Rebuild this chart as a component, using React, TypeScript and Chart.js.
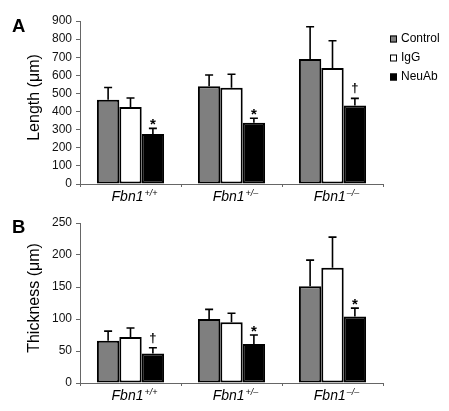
import React, { useEffect, useRef } from "react";
import { Chart, registerables } from "chart.js";

Chart.register(...registerables);

const categories = ["+/+", "+/–", "–/–"];
const seriesNames = ["Control", "IgG", "NeuAb"];
const seriesColors = ["#7f7f7f", "#ffffff", "#000000"];

const lengthControl = [465, 540, 690];
const lengthIgG = [425, 532, 640];
const lengthNeuAb = [276, 338, 434];
const lengthControlErr = [68, 62, 178];
const lengthIgGErr = [50, 74, 151];
const lengthNeuAbErr = [31, 25, 39];
const lengthMarks = ["*", "*", "†"];
const lengthMax = 900;
const lengthStep = 100;

const thickControl = [66, 100, 151];
const thickIgG = [72, 95, 180];
const thickNeuAb = [46, 61, 104];
const thickControlErr = [15, 15, 41];
const thickIgGErr = [14, 14, 48];
const thickNeuAbErr = [9, 14, 13];
const thickMarks = ["†", "*", "*"];
const thickMax = 250;
const thickStep = 50;

const FONT = "'Liberation Sans', Arial, sans-serif";
const AXIS = "#666666";

const panelPlugin = {
  id: "panel",
  afterDraw(chart: any, _args: any, opts: any) {
    const ctx = chart.ctx as CanvasRenderingContext2D;
    const xs = chart.scales.x;
    const ys = chart.scales.y;
    const area = chart.chartArea;
    ctx.save();
    // error bars
    chart.data.datasets.forEach((ds: any, i: number) => {
      const meta = chart.getDatasetMeta(i);
      meta.data.forEach((bar: any, j: number) => {
        const v = ds.data[j];
        const e = opts.errors[i][j];
        const yTop = ys.getPixelForValue(v + e);
        ctx.strokeStyle = "#000";
        ctx.lineWidth = 1.6;
        ctx.beginPath();
        ctx.moveTo(bar.x, bar.y);
        ctx.lineTo(bar.x, yTop);
        ctx.moveTo(bar.x - 4, yTop);
        ctx.lineTo(bar.x + 4, yTop);
        ctx.stroke();
        if (i === 2) {
          const m = opts.marks[j];
          ctx.fillStyle = "#000";
          ctx.textAlign = "center";
          ctx.textBaseline = "alphabetic";
          if (m === "*") {
            ctx.font = `bold 15px ${FONT}`;
            ctx.fillText(m, bar.x, yTop + 1);
          } else {
            ctx.font = `bold 13px ${FONT}`;
            ctx.fillText(m, bar.x, yTop - 6);
          }
        }
      });
    });
    // x labels
    categories.forEach((c: string, k: number) => {
      const cx = xs.getPixelForValue(k) + 4;
      ctx.font = `italic 14px ${FONT}`;
      const w1 = ctx.measureText("Fbn1").width;
      ctx.font = `italic 9px ${FONT}`;
      const w2 = ctx.measureText(c).width;
      const left = cx - (w1 + w2 + 1) / 2;
      const base = area.bottom + 17;
      ctx.fillStyle = "#000";
      ctx.textAlign = "left";
      ctx.textBaseline = "alphabetic";
      ctx.font = `italic 14px ${FONT}`;
      ctx.fillText("Fbn1", left, base);
      ctx.font = `italic 9px ${FONT}`;
      ctx.fillText(c, left + w1 + 1, base - 5);
    });
    // y title
    ctx.save();
    ctx.translate(35, (area.top + area.bottom) / 2 - 5);
    ctx.rotate(-Math.PI / 2);
    ctx.font = `16px ${FONT}`;
    ctx.textAlign = "center";
    ctx.textBaseline = "middle";
    ctx.fillStyle = "#000";
    ctx.fillText(opts.title, 0, 0);
    ctx.restore();
    // panel letter
    ctx.font = `bold 18.5px ${FONT}`;
    ctx.textAlign = "left";
    ctx.textBaseline = "alphabetic";
    ctx.fillStyle = "#000";
    ctx.fillText(opts.letter, 12, opts.letterBase);
    // legend
    if (opts.legend) {
      seriesNames.forEach((n: string, k: number) => {
        const cy = 39 + k * 19;
        ctx.fillStyle = seriesColors[k];
        ctx.fillRect(390, cy - 3.5, 7, 7);
        ctx.strokeStyle = "#000";
        ctx.lineWidth = 1;
        ctx.strokeRect(390.5, cy - 3, 6, 6);
        ctx.fillStyle = "#000";
        ctx.font = `12px ${FONT}`;
        ctx.textAlign = "left";
        ctx.textBaseline = "middle";
        ctx.fillText(n, 401, cy);
      });
    }
    ctx.restore();
  },
};

type PanelProps = {
  top: number;
  height: number;
  letter: string;
  letterBase: number;
  title: string;
  series: number[][];
  errors: number[][];
  marks: string[];
  yMax: number;
  yStep: number;
  padTop: number;
  padBottom: number;
  legend: boolean;
};

function Panel(p: PanelProps) {
  const ref = useRef<HTMLCanvasElement | null>(null);
  useEffect(() => {
    if (!ref.current) return;
    const chart = new Chart(ref.current, {
      type: "bar",
      data: {
        labels: categories,
        datasets: p.series.map((d, i) => ({
          label: seriesNames[i],
          data: d,
          backgroundColor: seriesColors[i],
          borderColor: "#000",
          borderWidth: 2,
          borderSkipped: false,
          categoryPercentage: 0.665,
          barPercentage: 1,
        })),
      },
      options: {
        responsive: false,
        animation: false,
        layout: { padding: { left: 0, right: 66, top: p.padTop, bottom: p.padBottom } },
        scales: {
          x: {
            ticks: { display: false },
            grid: { offset: true, drawOnChartArea: false, drawTicks: true, tickLength: 3, color: AXIS },
            border: { color: AXIS, width: 1 },
            afterFit: (s: any) => {
              s.height = 4;
            },
          },
          y: {
            min: 0,
            max: p.yMax,
            ticks: { stepSize: p.yStep, font: { family: FONT, size: 12 }, color: "#111", padding: 4 },
            grid: { drawOnChartArea: false, tickLength: 4, color: AXIS },
            border: { color: AXIS, width: 1 },
            afterFit: (s: any) => {
              s.width = 80;
            },
          },
        },
        plugins: {
          legend: { display: false },
          tooltip: { enabled: false },
          panel: {
            errors: p.errors,
            marks: p.marks,
            title: p.title,
            letter: p.letter,
            letterBase: p.letterBase,
            legend: p.legend,
          },
        } as any,
      },
      plugins: [panelPlugin as any],
    });
    return () => chart.destroy();
  }, []);
  return (
    <canvas
      ref={ref}
      width={449}
      height={p.height}
      style={{ position: "absolute", left: 0, top: p.top, width: 449, height: p.height }}
    />
  );
}

export default function App() {
  return (
    <div style={{ position: "fixed", left: 0, top: 0, width: 449, height: 411, background: "#fff" }}>
      <Panel
        top={0}
        height={205}
        letter="A"
        letterBase={31.7}
        title="Length (μm)"
        series={[lengthControl, lengthIgG, lengthNeuAb]}
        errors={[lengthControlErr, lengthIgGErr, lengthNeuAbErr]}
        marks={lengthMarks}
        yMax={lengthMax}
        yStep={lengthStep}
        padTop={21}
        padBottom={17}
        legend={true}
      />
      <Panel
        top={205}
        height={206}
        letter="B"
        letterBase={27.7}
        title="Thickness (μm)"
        series={[thickControl, thickIgG, thickNeuAb]}
        errors={[thickControlErr, thickIgGErr, thickNeuAbErr]}
        marks={thickMarks}
        yMax={thickMax}
        yStep={thickStep}
        padTop={18}
        padBottom={24}
        legend={false}
      />
    </div>
  );
}
